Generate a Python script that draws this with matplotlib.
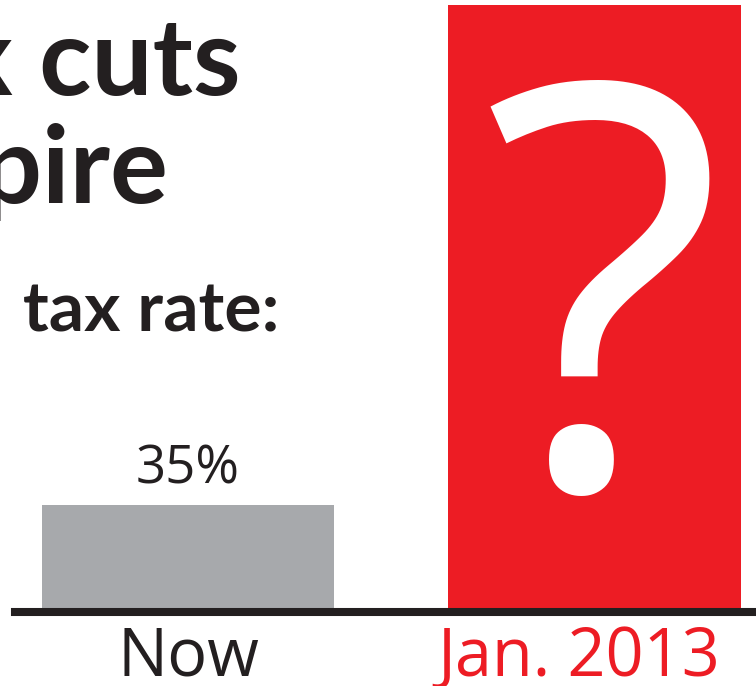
import matplotlib
matplotlib.use("Agg")
import matplotlib.pyplot as plt
from matplotlib.transforms import ScaledTranslation

categories = ["Now", "Jan. 2013"]
values = [35, 205.7]          # second bar is the "unknown" bar, height as drawn
value_labels = ["35%", ""]
bar_colors = ["#A7A9AC", "#ED1C24"]
label_colors = ["#231F20", "#ED1C24"]

W, H = 756, 686
fig = plt.figure(figsize=(W / 100, H / 100), dpi=100)
FONT = "Open Sans"
TFONT = "Lato"

def fx(px):
    return px / W

def fy(py):
    return 1 - py / H

ax = fig.add_axes([fx(15), fy(607.5), 1 - fx(15), 607.5 / H])
x = list(range(len(categories)))
bars = ax.bar(x, values, width=0.72, color=bar_colors, zorder=2)
ax.set_xlim(-0.4256, 1.397)
ax.set_ylim(0, 207.4)

for spine in ["top", "right", "left"]:
    ax.spines[spine].set_visible(False)
ax.spines["bottom"].set_linewidth(5.8)
ax.spines["bottom"].set_color("#231F20")
ax.spines["bottom"].set_position(("outward", 3.0))
ax.set_yticks([])
ax.set_xticks(x, categories)
ax.tick_params(axis="x", length=0, pad=9)
shifts = [0, -0.16]
for lbl, c, s in zip(ax.get_xticklabels(), label_colors, shifts):
    lbl.set_color(c)
    lbl.set_fontsize(48)
    lbl.set_fontfamily(FONT)
    lbl.set_transform(lbl.get_transform() + ScaledTranslation(s, 0, fig.dpi_scale_trans))

ax.bar_label(bars, labels=value_labels, padding=6, fontsize=38,
             fontfamily=FONT, color="#231F20")

# question mark inside the red bar
ax.text(x[1] + 0.02, 40.8, "?", ha="center", va="baseline", color="white",
        fontsize=405, fontfamily=FONT, zorder=3)

# title (clipped at the left edge of the reference)
fig.text(fx(241), fy(95), "Tax cuts", ha="right", va="baseline", fontsize=78,
         fontweight="bold", fontfamily=TFONT, color="#231F20")
fig.text(fx(168), fy(203), "expire", ha="right", va="baseline", fontsize=78,
         fontweight="bold", fontfamily=TFONT, color="#231F20")
fig.text(fx(279), fy(332), "tax rate:", ha="right", va="baseline", fontsize=50,
         fontweight="bold", fontfamily=TFONT, color="#231F20")

fig.savefig("out.png", dpi=100)
